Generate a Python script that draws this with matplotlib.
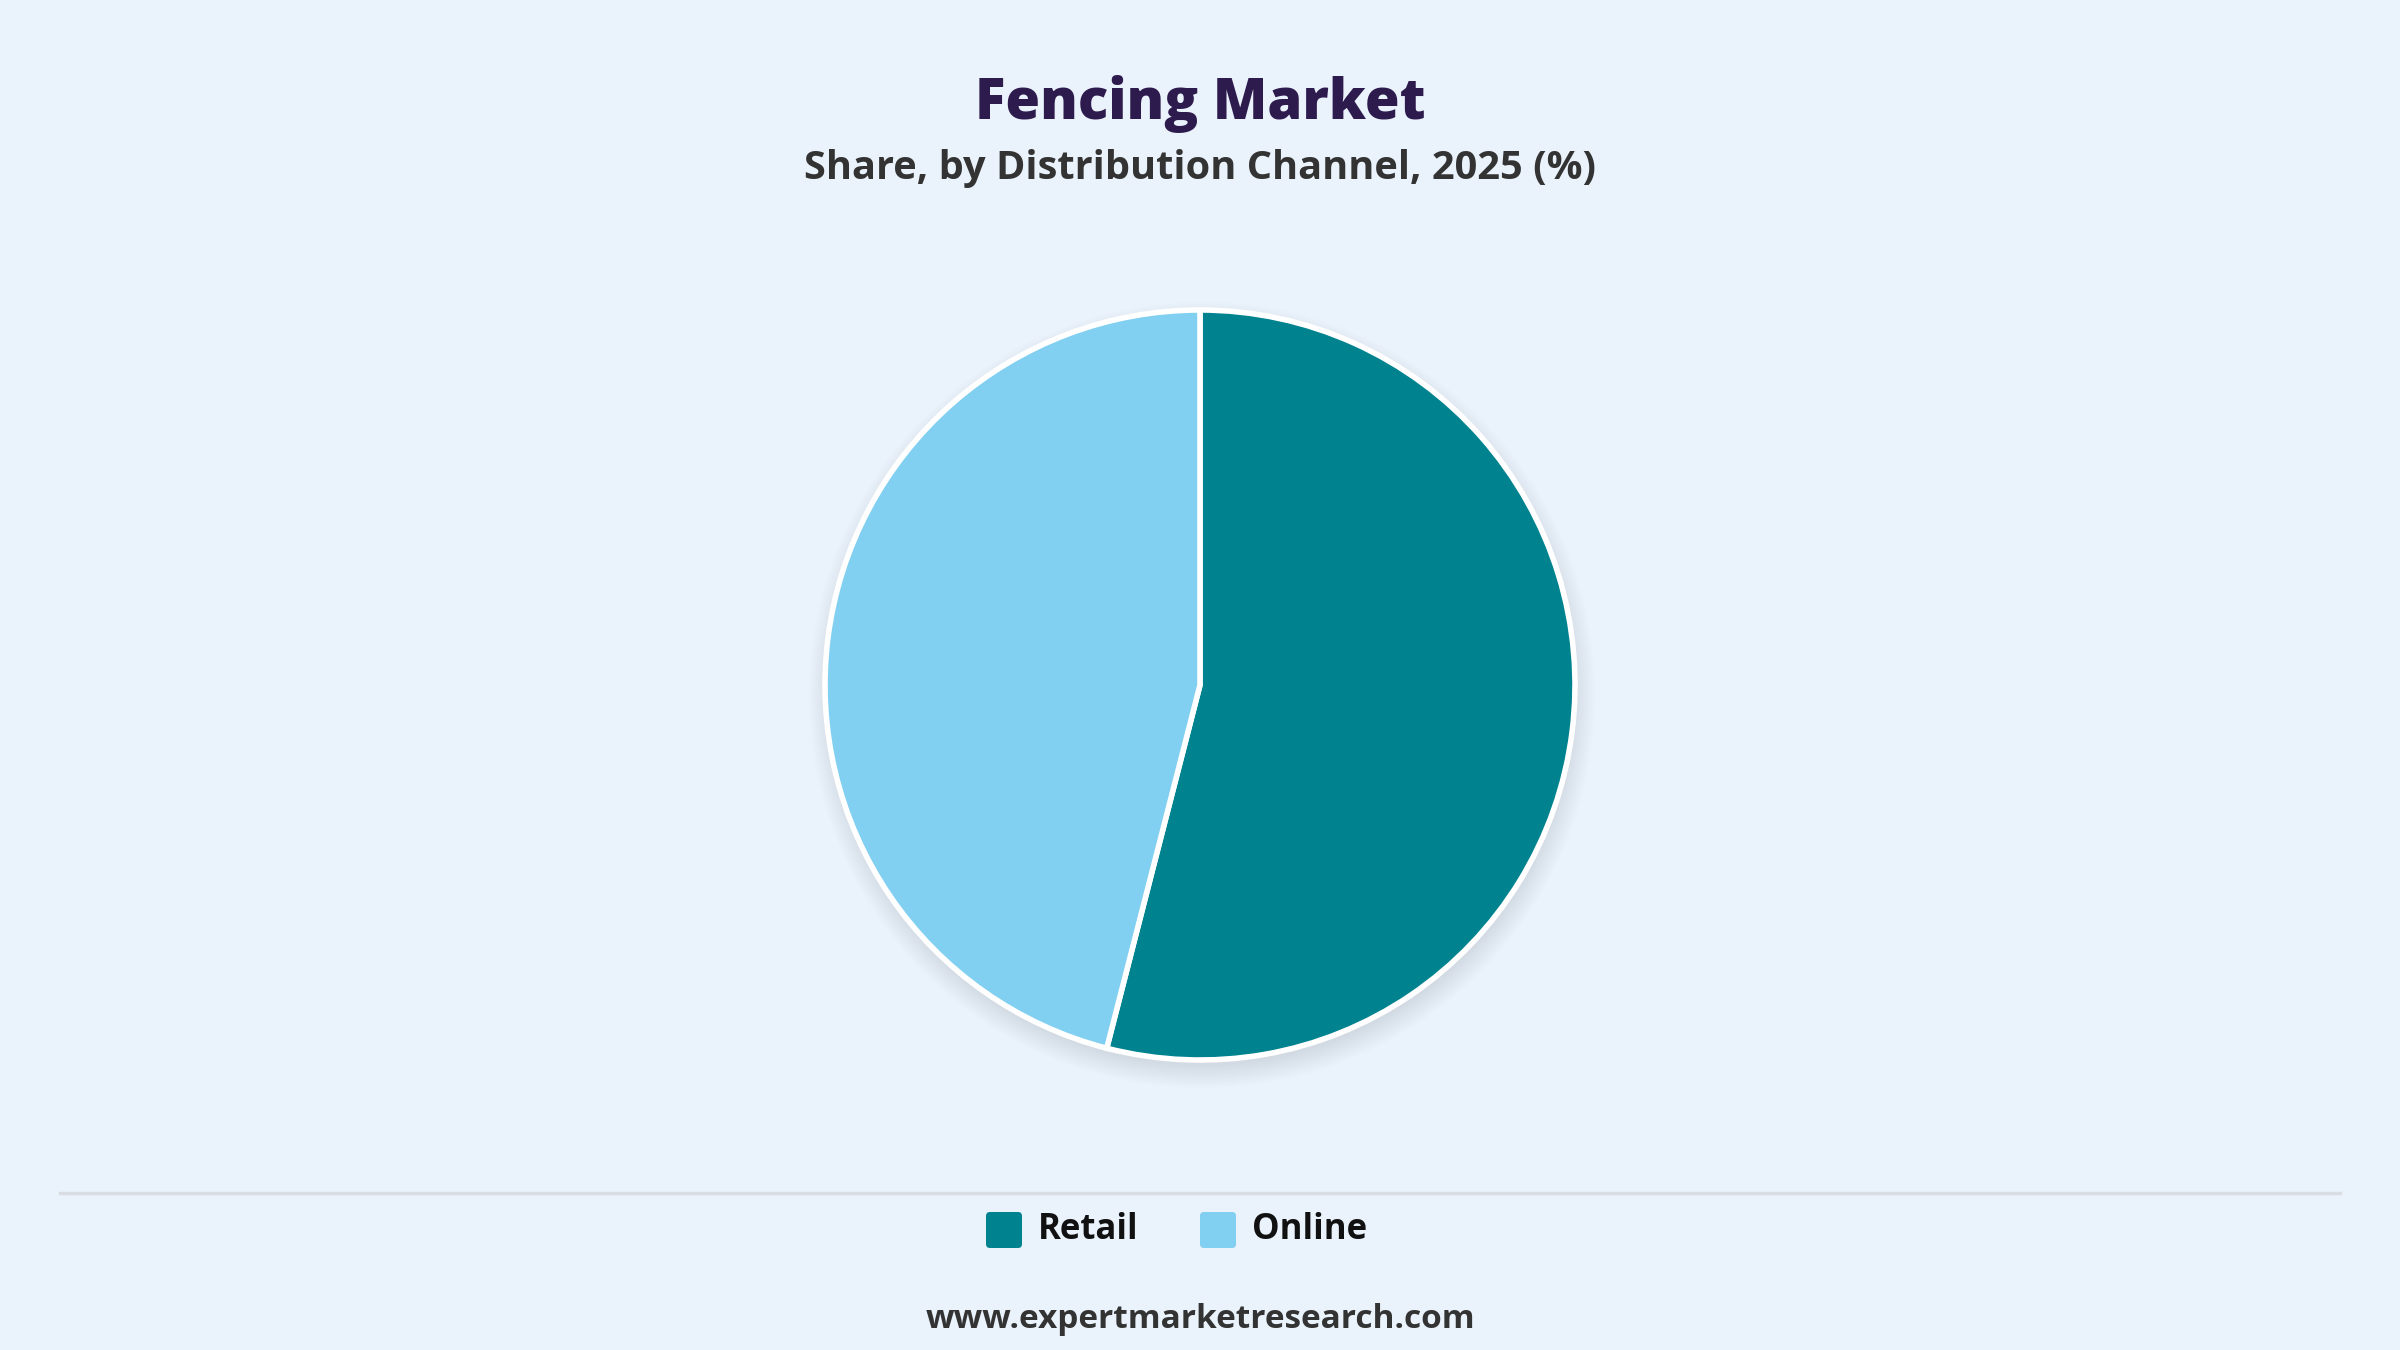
import matplotlib
matplotlib.use("Agg")
import matplotlib.pyplot as plt
from matplotlib.patches import Circle, FancyBboxPatch

categories = ["Retail", "Online"]
shares = [54.0, 46.0]
colors = ["#00838F", "#81CFF1"]
title = "Fencing Market"
subtitle = "Share, by Distribution Channel, 2025 (%)"
website = "www.expertmarketresearch.com"

BG = "#EAF2FB"
W, H = 2400, 1350
fig = plt.figure(figsize=(24, 13.5), dpi=100, facecolor=BG)
ax = fig.add_axes([0, 0, 1, 1])
ax.set_facecolor(BG)
ax.set_xlim(0, W)
ax.set_ylim(0, H)
ax.axis("off")

def Y(py):
    return H - py

cx, cy, r = 1200, Y(685), 375

# soft shadow (mostly below the pie)
for k in range(12):
    ax.add_patch(Circle((cx + 2, cy - 10), r - 4 + k * 2.0, facecolor="#2a3a55",
                        edgecolor="none", alpha=0.009, zorder=1))

ax.pie(shares, colors=colors, startangle=90, counterclock=False,
       center=(cx, cy), radius=r, frame=True,
       wedgeprops=dict(edgecolor="white", linewidth=4, zorder=3))
ax.set_xlim(0, W)
ax.set_ylim(0, H)
ax.set_aspect("auto")
ax.axis("off")

font = "Open Sans"
ax.text(W / 2, Y(104), title, ha="center", va="center", fontsize=40.5,
        fontweight="heavy", color="#2D1B4E", family=font)
ax.text(W / 2, Y(169), subtitle, ha="center", va="center", fontsize=28.6,
        fontweight="bold", color="#333333", family=font)

# separator line
ax.plot([60, 2340], [Y(1193), Y(1193)], color="#D9DDE3", lw=2.5, zorder=2)

# legend
leg_y = Y(1230)
sq = 36
x_positions = [986, 1200]
for lab, col, x0 in zip(categories, colors, x_positions):
    ax.add_patch(FancyBboxPatch((x0 + 4, leg_y - sq / 2 + 4), sq - 8, sq - 8,
                                boxstyle="round,pad=4", facecolor=col,
                                edgecolor="none", zorder=3))
    ax.text(x0 + sq + 16, leg_y, lab, ha="left", va="center", fontsize=25,
            fontweight="bold", color="#111111", family=font)

ax.text(W / 2, Y(1319), website, ha="center", va="center", fontsize=24,
        fontweight="bold", color="#333333", family=font)

fig.savefig("out.png", dpi=100, facecolor=BG)
